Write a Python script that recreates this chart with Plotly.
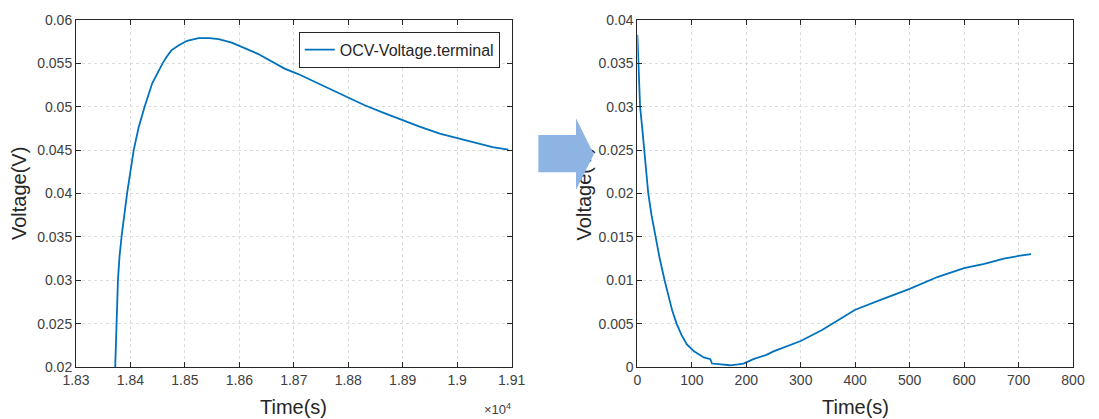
import plotly.graph_objects as go

# ---- data -------------------------------------------------------------
# Left panel: OCV minus terminal voltage during rest (time in seconds)
t_rest = [18372, 18374, 18377, 18380, 18384, 18394, 18406, 18415, 18426,
          18440, 18451, 18459, 18466, 18475, 18489, 18504, 18525, 18545,
          18562, 18586, 18634, 18683, 18707, 18750, 18789, 18829, 18865,
          18931, 18968, 19004, 19065, 19094]
v_rest = [0.0200, 0.0250, 0.0300, 0.0328, 0.0352, 0.0401, 0.0450, 0.0476,
          0.0500, 0.0527, 0.0541, 0.0550, 0.0557, 0.0565, 0.0571, 0.0576,
          0.0579, 0.0579, 0.0578, 0.0574, 0.0561, 0.0544, 0.0538, 0.0525,
          0.0514, 0.0502, 0.0493, 0.0477, 0.0469, 0.0463, 0.04535, 0.04505]

# Right panel: same quantity, time re-zeroed
t_shift = [0, 2, 5, 9, 13, 20, 26, 33, 41, 50, 64, 72, 81, 91, 104, 122,
           134, 137, 150, 170, 185, 195, 213, 237, 250, 262, 285, 300, 340,
           370, 400, 449, 500, 552, 600, 637, 673, 700, 723]
v_shift = [0.0383, 0.0350, 0.0300, 0.0275, 0.0250, 0.0200, 0.0175, 0.0150,
           0.0125, 0.0100, 0.0065, 0.0050, 0.0037, 0.0026, 0.0018, 0.0011,
           0.0009, 0.0004, 0.0003, 0.0002, 0.0003, 0.0004, 0.0009, 0.0014,
           0.0018, 0.0021, 0.0027, 0.0030, 0.0043, 0.0054, 0.0066, 0.0078,
           0.0090, 0.0104, 0.0114, 0.0119, 0.0125, 0.0128, 0.0130]

left_ticks = [18300, 18400, 18500, 18600, 18700, 18800, 18900, 19000, 19100]
left_ticktext = ["1.83", "1.84", "1.85", "1.86", "1.87", "1.88", "1.89", "1.9", "1.91"]

series_name = "OCV-Voltage.terminal"

# ---- layout geometry (pixels) ---------------------------------------
W_PX, H_PX = 1099, 419
L, R, T, B = 76, 1083, 14, 367          # outer plotting area
PW, PH = R - L, B - T


def px(x):
    return (x - L) / PW


def py(y):
    return (B - y) / PH


LINE_COLOR = "#0072BD"
TEXT_COLOR = "#262626"
TICK_TEXT = "#404040"
FONT = "Liberation Sans, Arial, sans-serif"

fig = go.Figure()
fig.add_trace(go.Scatter(x=t_rest, y=v_rest, mode="lines", name=series_name,
                         line=dict(color=LINE_COLOR, width=1.8),
                         xaxis="x", yaxis="y", showlegend=True))
fig.add_trace(go.Scatter(x=t_shift, y=v_shift, mode="lines", name=series_name,
                         line=dict(color=LINE_COLOR, width=1.8),
                         xaxis="x2", yaxis="y2", showlegend=False))

axis_common = dict(
    showline=True, linecolor=TEXT_COLOR, linewidth=1, mirror="ticks",
    ticks="inside", ticklen=5, tickcolor=TEXT_COLOR, tickwidth=1,
    showgrid=True, gridcolor="#dcdcdc", griddash="dot", gridwidth=1,
    zeroline=False, tickfont=dict(size=14, color=TICK_TEXT, family=FONT),
    fixedrange=True,
)

fig.update_layout(
    width=W_PX, height=H_PX,
    margin=dict(l=L, r=W_PX - R, t=T, b=H_PX - B),
    paper_bgcolor="white", plot_bgcolor="white",
    font=dict(family=FONT, color=TEXT_COLOR),
    xaxis=dict(domain=[0, px(516)], range=[18300, 19100], tickvals=left_ticks,
               ticktext=left_ticktext, anchor="y", **axis_common),
    yaxis=dict(domain=[0, 1], range=[0.02, 0.06], dtick=0.005, tick0=0,
               anchor="x", **axis_common),
    xaxis2=dict(domain=[px(643), 1], range=[0, 800], dtick=100, tick0=0,
                anchor="y2", **axis_common),
    yaxis2=dict(domain=[0, 1], range=[0, 0.04], dtick=0.005, tick0=0,
                anchor="x2", **axis_common),
    legend=dict(x=px(504), y=py(26), xanchor="right", yanchor="top",
                bgcolor="white", bordercolor=TEXT_COLOR, borderwidth=1,
                font=dict(size=16, color=TEXT_COLOR, family=FONT),
                itemwidth=30, tracegroupgap=0),
    showlegend=True,
)

title_font = dict(size=20, color=TEXT_COLOR, family=FONT)
annotations = [
    dict(text="Time(s)", x=px(296), y=py(408), xref="paper", yref="paper",
         xanchor="center", yanchor="middle", showarrow=False, font=title_font),
    dict(text="Time(s)", x=px(863), y=py(408), xref="paper", yref="paper",
         xanchor="center", yanchor="middle", showarrow=False, font=title_font),
    dict(text="Voltage(V)", x=px(18), y=py(190.5), xref="paper", yref="paper",
         xanchor="center", yanchor="middle", textangle=-90, showarrow=False,
         font=title_font),
    dict(text="Voltage(V)", x=px(589), y=py(190.5), xref="paper", yref="paper",
         xanchor="center", yanchor="middle", textangle=-90, showarrow=False,
         font=title_font),
    dict(text="×10<sup>4</sup>", x=px(517), y=py(410), xref="paper", yref="paper",
         xanchor="right", yanchor="middle", showarrow=False,
         font=dict(size=13, color=TICK_TEXT, family=FONT)),
]
fig.update_layout(annotations=annotations)

# block arrow between the two panels
arrow_pts = [(543, 131), (581, 131), (581, 114), (599, 150.5),
             (581, 187), (581, 169), (543, 169)]
path = "M " + " L ".join(f"{px(x):.5f},{py(y):.5f}" for x, y in arrow_pts) + " Z"
fig.add_shape(type="path", path=path, xref="paper", yref="paper",
              fillcolor="#8DB4E2", line=dict(width=0), layer="above")

# draw the shape layer on top of the text layer so the arrow overlaps the label
post = """
var gd = document.getElementById('{plot_id}');
function liftShapes() {
  var above = gd.querySelector('.layer-above');
  if (above && above.parentNode.lastChild !== above) {
    above.parentNode.appendChild(above);
  }
}
liftShapes();
gd.on('plotly_afterplot', liftShapes);
"""

fig.write_html("out.html", config={"displayModeBar": False}, post_script=post)
